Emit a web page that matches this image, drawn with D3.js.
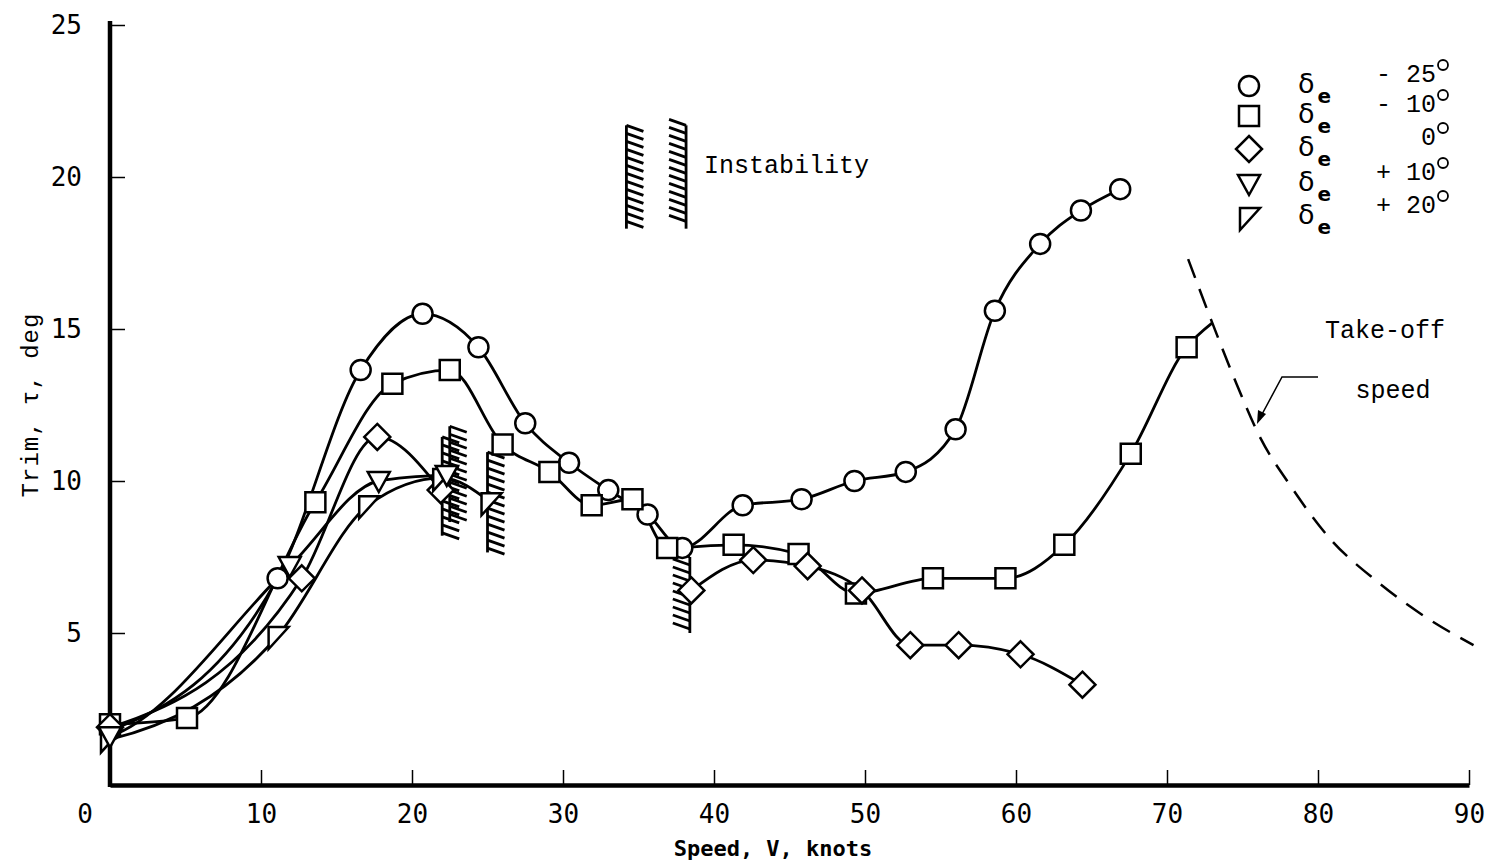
<!DOCTYPE html>
<html>
<head>
<meta charset="utf-8">
<script src="https://cdn.jsdelivr.net/npm/d3@7"></script>
<style>
body { margin: 0; background: #fff; }
svg { display: block; }
</style>
</head>
<body>
<script>
// elevator deflection runs, speed (knots) vs trim (deg)
var circleSpeed = [0, 11.1, 16.6, 20.7, 24.4, 27.5, 30.4, 33.0, 35.6, 37.9, 41.9, 45.8, 49.3, 52.7, 56.0, 58.6, 61.6, 64.3, 66.9];
var circleTrim  = [1.8, 6.8, 13.65, 15.5, 14.4, 11.9, 10.6, 9.7, 8.9, 7.8, 9.2, 9.4, 10.0, 10.3, 11.7, 15.6, 17.8, 18.9, 19.6];

var squareSpeed = [0, 5.1, 13.6, 18.7, 22.5, 26.0, 29.1, 31.9, 34.6, 36.9, 41.3, 45.6, 49.4, 54.5, 59.3, 63.2, 67.6, 71.3];
var squareTrim  = [2.0, 2.2, 9.3, 13.2, 13.65, 11.2, 10.3, 9.2, 9.4, 7.8, 7.9, 7.6, 6.3, 6.8, 6.8, 7.9, 10.9, 14.4];
var squareEnd = [73.0, 15.2]; // curve runs on to the take-off line

var diamondSpeedA = [0, 12.7, 17.7, 21.9];
var diamondTrimA  = [1.9, 6.8, 11.45, 9.7];
var diamondSpeedB = [38.5, 42.6, 46.2, 49.8, 53.0, 56.2, 60.3, 64.4];
var diamondTrimB  = [6.4, 7.4, 7.2, 6.4, 4.6, 4.6, 4.3, 3.3];

var triSpeed = [0, 11.9, 17.8, 22.3];
var triTrim  = [1.6, 7.2, 10.0, 10.2];

var flagSpeed = [0, 11.1, 17.1, 22.0, 25.2];
var flagTrim  = [1.5, 4.9, 9.2, 10.1, 9.3];

var takeoffSpeed = [71.4, 73.0, 74.6, 76.2, 78.1, 80.8, 83.9, 87.2, 90.3];
var takeoffTrim  = [17.3, 15.2, 13.2, 11.4, 9.9, 8.1, 6.7, 5.5, 4.6];

// instability boundaries
var hatchSpeed  = [22.0, 22.5, 25.0, 38.4];
var hatchTop    = [11.45, 11.8, 10.95, 7.5];
var hatchBottom = [8.2, 8.65, 7.65, 5.0];
var hatchSide   = ["L", "L", "L", "R"];

var xTicks = [10, 20, 30, 40, 50, 60, 70, 80, 90];
var yTicks = [5, 10, 15, 20, 25];

var legendLabels = ["- 25", "- 10", "0", "+ 10", "+ 20"];
var legendShapes = ["circle", "square", "diamond", "tri", "flag"];

var width = 1487, height = 866;
var svg = d3.select("body").append("svg")
    .attr("width", width)
    .attr("height", height);

var x = d3.scaleLinear().domain([0, 90]).range([110, 1469]);
var y = d3.scaleLinear().domain([0, 25]).range([785, 25]);

function zip(a, b) {
    return a.map(function(d, i) { return [d, b[i]]; });
}

// axes
var xAxis = d3.axisBottom(x).tickValues(xTicks).tickSizeInner(-15).tickSizeOuter(0).tickPadding(20);
var yAxis = d3.axisLeft(y).tickValues(yTicks).tickSizeInner(-15).tickSizeOuter(0).tickPadding(28);

var gx = svg.append("g").attr("transform", "translate(0," + y(0) + ")").call(xAxis);
var gy = svg.append("g").attr("transform", "translate(" + x(0) + ",0)").call(yAxis);
[gx, gy].forEach(function(g) {
    g.select(".domain").attr("stroke", "#000").attr("stroke-width", 4.5);
    g.selectAll(".tick line").attr("stroke", "#000").attr("stroke-width", 1.5);
    g.selectAll(".tick text")
        .attr("fill", "#000")
        .style("font-family", "'DejaVu Sans Mono', monospace")
        .style("font-size", "26px");
});
gy.select(".domain").attr("d", "M0," + (y(25) - 4) + "V" + (y(0) + 2));

svg.append("text")
    .attr("x", x(0) - 25).attr("y", y(0) + 38)
    .attr("text-anchor", "middle")
    .style("font-family", "'DejaVu Sans Mono', monospace")
    .style("font-size", "26px")
    .text("0");

svg.append("text")
    .attr("x", 773).attr("y", 856)
    .attr("text-anchor", "middle")
    .style("font-family", "'DejaVu Sans Mono', monospace")
    .style("font-size", "22px")
    .style("font-weight", "bold")
    .text("Speed, V, knots");

svg.append("text")
    .attr("transform", "translate(38,405) rotate(-90)")
    .attr("text-anchor", "middle")
    .style("font-family", "'Liberation Mono', monospace")
    .style("font-size", "24px")
    .style("letter-spacing", "1px")
    .text("Trim, \u03c4, deg");

// faired curve: monotone cubic through the points, with an optional
// gentler starting slope (curves leave the origin cluster nearly flat)
function faired(data, startFactor) {
    var p = data.map(function(d) { return [x(d[0]), y(d[1])]; });
    var n = p.length, path = d3.path();
    path.moveTo(p[0][0], p[0][1]);
    if (n === 2) { path.lineTo(p[1][0], p[1][1]); return path.toString(); }
    var h = [], s = [], m = [];
    for (var i = 0; i < n - 1; i++) {
        h[i] = p[i + 1][0] - p[i][0];
        s[i] = (p[i + 1][1] - p[i][1]) / h[i];
    }
    for (i = 1; i < n - 1; i++) {
        var q = (s[i - 1] * h[i] + s[i] * h[i - 1]) / (h[i - 1] + h[i]);
        m[i] = (Math.sign(s[i - 1]) + Math.sign(s[i])) *
            Math.min(Math.abs(s[i - 1]), Math.abs(s[i]), 0.5 * Math.abs(q)) || 0;
    }
    m[0] = startFactor != null ? startFactor * s[0] : (3 * s[0] - m[1]) / 2;
    m[n - 1] = (3 * s[n - 2] - m[n - 2]) / 2;
    for (i = 0; i < n - 1; i++) {
        var dx = h[i] / 3;
        path.bezierCurveTo(p[i][0] + dx, p[i][1] + m[i] * dx,
            p[i + 1][0] - dx, p[i + 1][1] - m[i + 1] * dx,
            p[i + 1][0], p[i + 1][1]);
    }
    return path.toString();
}

var curves = [
    [zip(circleSpeed, circleTrim), 0.4],
    [zip(squareSpeed, squareTrim).concat([squareEnd]), 0.4],
    [zip(diamondSpeedA, diamondTrimA), 0.4],
    [zip(diamondSpeedB, diamondTrimB), null],
    [zip(triSpeed, triTrim), 0.35],
    [zip(flagSpeed, flagTrim), 0.4]
];
svg.selectAll(".curve")
    .data(curves)
    .enter()
    .append("path")
    .attr("class", "curve")
    .attr("d", function(d) { return faired(d[0], d[1]); })
    .attr("fill", "none")
    .attr("stroke", "#000")
    .attr("stroke-width", 2.8);

svg.append("path")
    .attr("d", faired(zip(takeoffSpeed, takeoffTrim), null))
    .attr("fill", "none")
    .attr("stroke", "#000")
    .attr("stroke-width", 2.5)
    .attr("stroke-dasharray", "20,12");

// hatched instability marks
function hatch(g, px, top, bottom, side) {
    g.append("line")
        .attr("x1", px).attr("x2", px)
        .attr("y1", top).attr("y2", bottom);
    var n = Math.floor((bottom - top) / 8);
    for (var k = 0; k <= n; k++) {
        var yy = top + k * 8;
        if (side === "L") {
            g.append("line").attr("x1", px).attr("y1", yy).attr("x2", px + 17).attr("y2", yy + 6);
        } else {
            g.append("line").attr("x1", px - 17).attr("y1", yy - 6).attr("x2", px).attr("y2", yy);
        }
    }
    g.selectAll("line").attr("stroke", "#000").attr("stroke-width", 2.8);
}
hatchSpeed.forEach(function(v, i) {
    hatch(svg.append("g"), x(v), y(hatchTop[i]), y(hatchBottom[i]), hatchSide[i]);
});

// markers
var shapePath = {
    square: "M-10,-10H10V10H-10Z",
    diamond: "M0,-13L13,0L0,13L-13,0Z",
    tri: "M-11,-9L11,-9L0,11Z",
    flag: "M-9,-9L11,-9L-9,13Z"
};
function marker(g, shape, px, py) {
    if (shape === "circle") {
        g.append("circle").attr("cx", px).attr("cy", py).attr("r", 10)
            .attr("fill", "#fff").attr("stroke", "#000").attr("stroke-width", 2.5);
    } else {
        g.append("path").attr("d", shapePath[shape])
            .attr("transform", "translate(" + px + "," + py + ")")
            .attr("fill", "#fff").attr("stroke", "#000").attr("stroke-width", 2.5)
            .attr("stroke-linejoin", "miter");
    }
}
var markerSets = [
    ["circle", zip(circleSpeed, circleTrim)],
    ["square", zip(squareSpeed, squareTrim)],
    ["diamond", zip(diamondSpeedA, diamondTrimA).concat(zip(diamondSpeedB, diamondTrimB))],
    ["flag", zip(flagSpeed, flagTrim)],
    ["tri", zip(triSpeed, triTrim)]
];
var gm = svg.append("g");
markerSets.forEach(function(s) {
    s[1].forEach(function(d) { marker(gm, s[0], x(d[0]), y(d[1])); });
});

// legend
var legendY = [86, 116, 149, 184, 217];
var gl = svg.append("g");
legendShapes.forEach(function(s, i) {
    marker(gl, s, 1249, legendY[i]);
    var t = gl.append("text")
        .attr("x", 1298).attr("y", legendY[i] + 7)
        .style("font-family", "'DejaVu Sans', sans-serif")
        .style("font-size", "27px");
    t.append("tspan").text("\u03b4");
    t.append("tspan").attr("dx", 3).attr("dy", 10)
        .style("font-size", "20px").style("font-weight", "bold").text("e");
    gl.append("text")
        .attr("x", 1436).attr("y", legendY[i] - 4)
        .attr("text-anchor", "end")
        .style("font-family", "'Liberation Mono', monospace")
        .style("font-size", "25px")
        .text(legendLabels[i]);
    gl.append("circle")
        .attr("cx", 1443).attr("cy", legendY[i] - 21).attr("r", 5)
        .attr("fill", "none").attr("stroke", "#000").attr("stroke-width", 1.8);
});

// instability key
hatch(svg.append("g"), x(34.2), y(21.7), y(18.3), "L");
hatch(svg.append("g"), x(38.15), y(21.7), y(18.3), "R");
svg.append("text")
    .attr("x", 704).attr("y", 173)
    .style("font-family", "'Liberation Mono', monospace")
    .style("font-size", "25px")
    .text("Instability");

// take-off note
var note = svg.append("g").style("font-family", "'Liberation Mono', monospace").style("font-size", "25px");
note.append("text").attr("x", 1385).attr("y", 338).attr("text-anchor", "middle").text("Take-off");
note.append("text").attr("x", 1393).attr("y", 398).attr("text-anchor", "middle").text("speed");
note.append("path")
    .attr("d", "M1318,377H1282L1260,418")
    .attr("fill", "none").attr("stroke", "#000").attr("stroke-width", 1.5);
note.append("path")
    .attr("d", "M1257,424L1258,410L1266,414Z")
    .attr("fill", "#000");
</script>
</body>
</html>
